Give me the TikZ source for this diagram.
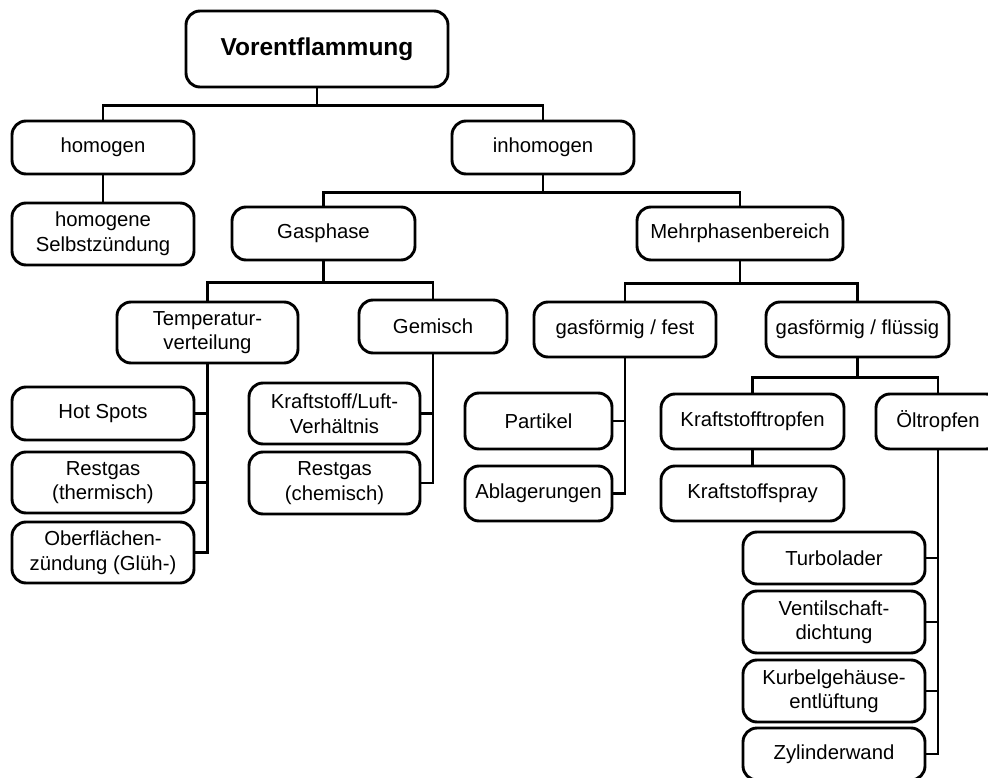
\documentclass[tikz,border=0pt]{standalone}
\usepackage{fontspec}
\setmainfont{Liberation Sans}
\begin{document}
\begin{tikzpicture}[x=1pt,y=-1pt,
  nbox/.style={draw=black, line width=2.9pt, rounded corners=14pt, fill=white,
    align=center, inner sep=0pt, font=\fontsize{20.3}{24.5}\selectfont},
  conn/.style={draw=black, line width=2.9pt}]
\useasboundingbox (0,0) rectangle (988,778);
\clip (0,0) rectangle (988,778);
% nodes
\node[nbox, minimum width=262pt, minimum height=76pt, font=\fontsize{24.5}{28}\selectfont\bfseries] (vor) at (317,49) {Vorentflammung};
\node[nbox, minimum width=182pt, minimum height=53pt] (hom) at (103,147.5) {homogen};
\node[nbox, minimum width=182pt, minimum height=53pt] (inh) at (543,147.5) {inhomogen};
\node[nbox, minimum width=182pt, minimum height=62pt] (hsz) at (103,234) {homogene\\Selbstzündung};
\node[nbox, minimum width=183pt, minimum height=53pt] (gas) at (323.5,233.5) {Gasphase};
\node[nbox, minimum width=206pt, minimum height=53pt] (mehr) at (740,233.5) {Mehrphasenbereich};
\node[nbox, minimum width=181pt, minimum height=61pt] (temp) at (207.5,332.5) {Temperatur-\\verteilung};
\node[nbox, minimum width=148pt, minimum height=53pt] (gem) at (433,326.5) {Gemisch};
\node[nbox, minimum width=182pt, minimum height=55pt] (gfest) at (625,329.5) {gasförmig / fest};
\node[nbox, minimum width=183pt, minimum height=55pt] (gfl) at (857.5,329.5) {gasförmig / flüssig};
\node[nbox, minimum width=182pt, minimum height=53pt] (hot) at (103,413.5) {Hot Spots};
\node[nbox, minimum width=182pt, minimum height=61pt] (rth) at (103,482.5) {Restgas\\(thermisch)};
\node[nbox, minimum width=182pt, minimum height=61pt] (ober) at (103,552.5) {Oberflächen-\\zündung (Glüh-)};
\node[nbox, minimum width=171pt, minimum height=61pt] (kl) at (334.5,413.5) {Kraftstoff/Luft-\\Verhältnis};
\node[nbox, minimum width=171pt, minimum height=62pt] (rch) at (334.5,483) {Restgas\\(chemisch)};
\node[nbox, minimum width=147pt, minimum height=56pt] (part) at (538.5,421) {Partikel};
\node[nbox, minimum width=147pt, minimum height=55pt] (abl) at (538.5,493.5) {Ablagerungen};
\node[nbox, minimum width=183pt, minimum height=55pt] (kt) at (752.5,421.5) {Kraftstofftropfen};
\node[nbox, minimum width=183pt, minimum height=55pt] (ks) at (752.5,493.5) {Kraftstoffspray};
\node[nbox, minimum width=124pt, minimum height=55pt] (oel) at (938,421.5) {Öltropfen};
\node[nbox, minimum width=182pt, minimum height=52pt] (turbo) at (834,558) {Turbolader};
\node[nbox, minimum width=182pt, minimum height=62pt] (vent) at (834,622) {Ventilschaft-\\dichtung};
\node[nbox, minimum width=182pt, minimum height=62pt] (kurb) at (834,691) {Kurbelgehäuse-\\entlüftung};
\node[nbox, minimum width=182pt, minimum height=52pt] (zyl) at (834,754) {Zylinderwand};
% connectors
\draw[conn] (vor.south) -- ++(0,17) -| (hom.north);
\draw[conn] (vor.south) -- ++(0,17) -| (inh.north);
\draw[conn] (hom.south) -- (hsz.north);
\draw[conn] (inh.south) -- ++(0,17) -| (gas.north);
\draw[conn] (inh.south) -- ++(0,17) -| (mehr.north);
\draw[conn] (gas.south) -- ++(0,21) -| (temp.north);
\draw[conn] (gas.south) -- ++(0,21) -| (gem.north);
\draw[conn] (temp.south) |- (hot.east);
\draw[conn] (temp.south) |- (rth.east);
\draw[conn] (temp.south) |- (ober.east);
\draw[conn] (gem.south) |- (kl.east);
\draw[conn] (gem.south) |- (rch.east);
\draw[conn] (mehr.south) -- ++(0,22) -| (gfest.north);
\draw[conn] (mehr.south) -- ++(0,22) -| (gfl.north);
\draw[conn] (gfest.south) |- (part.east);
\draw[conn] (gfest.south) |- (abl.east);
\draw[conn] (gfl.south) -- ++(0,19) -| (kt.north);
\draw[conn] (gfl.south) -- ++(0,19) -| (oel.north);
\draw[conn] (kt.south) -- (ks.north);
\draw[conn] (oel.south) |- (turbo.east);
\draw[conn] (oel.south) |- (vent.east);
\draw[conn] (oel.south) |- (kurb.east);
\draw[conn] (oel.south) |- (zyl.east);
\end{tikzpicture}
\end{document}
